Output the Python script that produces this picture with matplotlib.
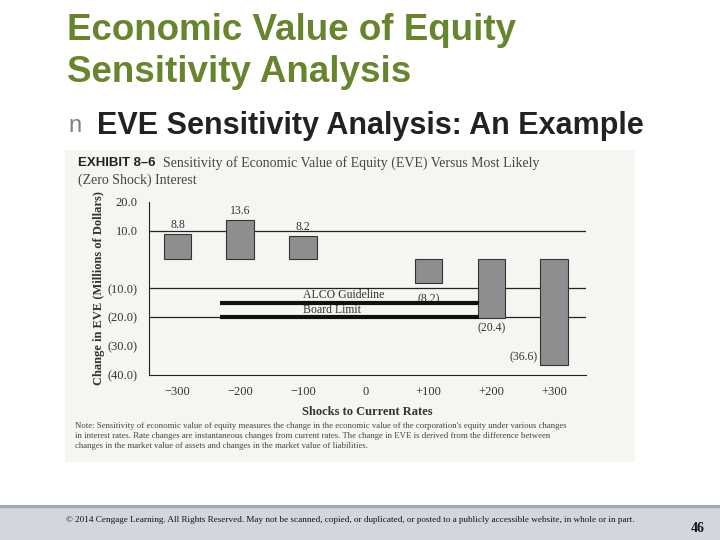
import matplotlib
matplotlib.use("Agg")
import matplotlib.pyplot as plt
from matplotlib.patches import Rectangle

shocks = ["\u2212300", "\u2212200", "\u2212100", "0", "+100", "+200", "+300"]
eve_change = [8.8, 13.6, 8.2, 0.0, -8.2, -20.4, -36.6]
bar_labels = ["8.8", "13.6", "8.2", "", "(8.2)", "(20.4)", "(36.6)"]
yticks = [20, 10, 0, -10, -20, -30, -40]
ytick_labels = ["20.0", "10.0", "", "(10.0)", "(20.0)", "(30.0)", "(40.0)"]
alco_level = -15
board_level = -20

W, H = 720, 540
fig = plt.figure(figsize=(7.2, 5.4), dpi=100)
fig.patch.set_facecolor("white")

def fx(x): return x / W
def fy(y): return 1 - y / H

green = "#66852c"
fig.text(fx(67), fy(30), "Economic Value of Equity", color=green, fontsize=26.5,
         fontweight="bold", family="Liberation Sans", va="center")
fig.text(fx(67), fy(73), "Sensitivity Analysis", color=green, fontsize=26.5,
         fontweight="bold", family="Liberation Sans", va="center")
fig.text(fx(68), fy(126), "n", color="#808080", fontsize=17, family="Liberation Sans", va="center")
fig.text(fx(97), fy(126), "EVE Sensitivity Analysis: An Example", color="#222222",
         fontsize=22, fontweight="bold", family="Liberation Sans", va="center")

# chart background image area
bg = fig.add_axes([fx(65), fy(462), fx(635) - fx(65), fy(150) - fy(462)])
bg.set_facecolor("#f6f5f1")
bg.set_xticks([]); bg.set_yticks([])
for s in bg.spines.values():
    s.set_visible(False)

fig.text(fx(78), fy(163), "EXHIBIT 8\u20136", fontsize=9.5, fontweight="bold",
         family="Liberation Sans", color="#222", va="center")
fig.text(fx(163), fy(163), "Sensitivity of Economic Value of Equity (EVE) Versus Most Likely",
         fontsize=10, family="Liberation Serif", color="#444", va="center")
fig.text(fx(78), fy(180), "(Zero Shock) Interest", fontsize=10, family="Liberation Serif",
         color="#444", va="center")

ax = fig.add_axes([fx(148.6), fy(375), fx(585.5) - fx(148.6), fy(201.7) - fy(375)])
ax.set_facecolor("none")
x = list(range(len(shocks)))
edge = ["#333" if v != 0 else "none" for v in eve_change]
ax.bar(x, eve_change, width=0.44, color="#8e8e90", edgecolor=edge, linewidth=0.8, zorder=3)
ax.set_xlim(-0.46, 6.5)
ax.set_ylim(-40, 20)
for g in [10, -10, -20]:
    ax.axhline(g, color="#222", lw=0.9, zorder=1)
for i, (v, lab) in enumerate(zip(eve_change, bar_labels)):
    if not lab:
        continue
    kw = dict(fontsize=8.5, family="Liberation Serif", color="#333")
    if v >= 0:
        ax.text(i, v + 1, lab, ha="center", va="bottom", **kw)
    elif i == 4:
        ax.text(i, v - 5.5, lab, ha="center", va="center", **kw)
    elif i == 5:
        ax.text(i, v - 1.2, lab, ha="center", va="top", **kw)
    else:
        ax.text(i - 0.26, v + 0.6, lab, ha="right", va="bottom", **kw)
ax.plot([0.67, 4.81], [alco_level, alco_level], color="#111", lw=3, zorder=4,
        solid_capstyle="butt")
ax.plot([0.67, 4.81], [board_level, board_level], color="#111", lw=3, zorder=4,
        solid_capstyle="butt")
ax.text(2.0, alco_level + 0.6, "ALCO Guideline", fontsize=8.5, family="Liberation Serif",
        color="#333", va="bottom")
ax.text(2.0, board_level + 0.6, "Board Limit", fontsize=8.5, family="Liberation Serif",
        color="#333", va="bottom")
ax.set_xticks(x)
ax.set_xticklabels(shocks, family="Liberation Serif", fontsize=9, color="#333")
ax.set_yticks(yticks)
ax.set_yticklabels(ytick_labels, family="Liberation Serif", fontsize=9, color="#333")
ax.tick_params(length=0, pad=8)
for s in ["top", "right"]:
    ax.spines[s].set_visible(False)
ax.spines["left"].set_color("#222")
ax.spines["bottom"].set_color("#222")
ax.set_xlabel("Shocks to Current Rates", family="Liberation Serif", fontsize=9,
              fontweight="bold", color="#333", labelpad=6)
ax.set_ylabel("Change in EVE (Millions of Dollars)", family="Liberation Serif", fontsize=9,
              fontweight="bold", color="#333", labelpad=2)

note = ("Note: Sensitivity of economic value of equity measures the change in the economic value of the corporation's equity under various changes\n"
        "in interest rates. Rate changes are instantaneous changes from current rates. The change in EVE is derived from the difference between\n"
        "changes in the market value of assets and changes in the market value of liabilities.")
fig.text(fx(75), fy(436), note, fontsize=6.3, family="Liberation Serif", color="#444",
         va="center", linespacing=1.4)

# footer band
ft = fig.add_axes([0, 0, 1, fy(505)])
ft.set_xlim(0, 1); ft.set_ylim(0, 1)
ft.set_facecolor("#d3d6dc")
ft.set_xticks([]); ft.set_yticks([])
for s in ft.spines.values():
    s.set_visible(False)
ft.add_patch(Rectangle((0, 0.93), 1, 0.07, color="#a0a6b0"))
fig.text(fx(350), fy(520),
         "\u00a9 2014 Cengage Learning. All Rights Reserved. May not be scanned, copied, or duplicated, or posted to a publicly accessible website, in whole or in part.",
         fontsize=6.6, family="Liberation Serif", color="#111", ha="center", va="center")
fig.text(fx(698), fy(528), "46", fontsize=10, family="Liberation Serif", fontweight="bold",
         color="#111", ha="center", va="center")

fig.savefig("out.png", dpi=100, facecolor="white")
